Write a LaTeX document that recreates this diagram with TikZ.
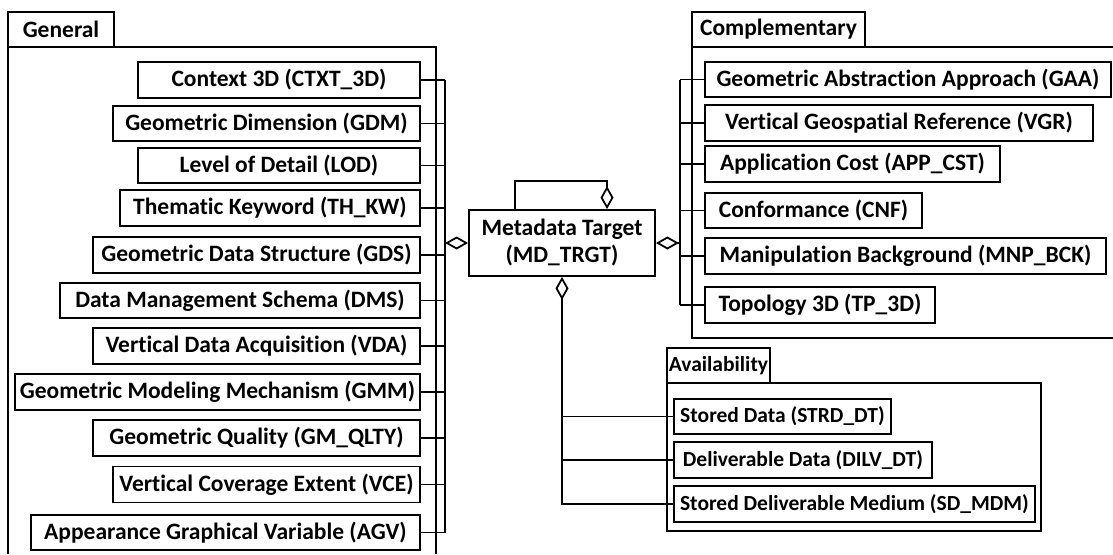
\documentclass[tikz,border=0pt]{standalone}
\usepackage{fontspec}
\setmainfont{Carlito}[Ligatures=NoCommon]
\usetikzlibrary{arrows.meta}
\tikzset{
  item/.style={draw, line width=1.8pt, inner sep=0pt, minimum height=36pt,
    font=\fontsize{23.5}{27}\selectfont\bfseries},
  aitem/.style={item, font=\fontsize{21.5}{25}\selectfont\bfseries},
  tab/.style={draw, line width=1.4pt, inner sep=0pt,
    font=\fontsize{23.5}{27}\selectfont\bfseries},
  pkg/.style={draw, line width=1.4pt},
  conn/.style={draw, line width=1.8pt},
  agg/.style={{Diamond[open,length=23pt,width=13pt]}-},
}
\begin{document}
\begin{tikzpicture}[x=1pt,y=-1pt]
\useasboundingbox (0,0) rectangle (1113,554);
% packages
\draw[pkg] (8,554) -- (8,47) -- (436,47) -- (436,554);
\node[tab, minimum width=106pt, minimum height=35pt] (gtab) at (61,29.5) {General};
\draw[pkg] (1113,47) -- (692,47) -- (692,338) -- (1113,338);
\node[tab, minimum width=173pt, minimum height=35pt] (ctab) at (778.5,29.5) {Complementary};
\draw[pkg] (667,383) rectangle (1041,531);
\node[tab, minimum width=103pt, minimum height=35pt, font=\fontsize{21.5}{25}\selectfont\bfseries] (atab) at (718.5,365.5) {Availability};
% general items
\node[item, minimum width=282pt] (ctx) at (279,80) {Context 3D (CTXT\_3D)};
\node[item, minimum width=307pt, minimum height=35pt] (gdm) at (266.5,123.5) {Geometric Dimension (GDM)};
\node[item, minimum width=282pt, minimum height=35pt] (lod) at (279,165.5) {Level of Detail (LOD)};
\node[item, minimum width=300pt] (thkw) at (270,208) {Thematic Keyword (TH\_KW)};
\node[item, minimum width=327pt] (gds) at (256.5,255) {Geometric Data Structure (GDS)};
\node[item, minimum width=360pt, minimum height=35pt] (dms) at (240,300.5) {Data Management Schema (DMS)};
\node[item, minimum width=327pt] (vda) at (256.5,346) {Vertical Data Acquisition (VDA)};
\node[item, minimum width=405pt] (gmm) at (217.5,392) {Geometric Modeling Mechanism (GMM)};
\node[item, minimum width=327pt] (gq) at (256.5,438) {Geometric Quality (GM\_QLTY)};
\node[item, minimum width=307pt] (vce) at (266.5,484.5) {Vertical Coverage Extent (VCE)};
\node[item, minimum width=389pt, minimum height=35pt] (agv) at (225.5,532.5) {Appearance Graphical Variable (AGV)};
% target
\node[item, minimum width=186pt, minimum height=66pt, align=center] (md) at (562,243) {Metadata Target\\(MD\_TRGT)};
% complementary items
\node[item, minimum width=406pt, minimum height=35pt] (gaa) at (908,79.5) {Geometric Abstraction Approach (GAA)};
\node[item, minimum width=388pt] (vgr) at (899,123) {Vertical Geospatial Reference (VGR)};
\node[item, minimum width=295pt] (app) at (852.5,164) {Application Cost (APP\_CST)};
\node[item, minimum width=217pt, minimum height=35pt] (cnf) at (813.5,210.5) {Conformance (CNF)};
\node[item, minimum width=401pt] (mnp) at (905.5,256) {Manipulation Background (MNP\_BCK)};
\node[item, minimum width=230pt] (tp) at (820,305) {Topology 3D (TP\_3D)};
% availability items
\node[aitem, minimum width=217pt, minimum height=35pt] (strd) at (782.5,416.5) {Stored Data (STRD\_DT)};
\node[aitem, minimum width=258pt] (dilv) at (803,460) {Deliverable Data (DILV\_DT)};
\node[aitem, minimum width=361pt] (sdm) at (854.5,504) {Stored Deliverable Medium (SD\_MDM)};
% bus coordinates
\coordinate (gb) at (445,243);
\coordinate (cb) at (680,243);
\coordinate (lA) at (515,181);
\coordinate (lB) at (607,181);
% general connectors
\foreach \n in {ctx,gdm,lod,thkw,gds,dms,vda,gmm,gq,vce,agv}
  \draw[conn] (\n.east) -- (\n.east -| gb);
\draw[conn] (ctx.east -| gb) -- (agv.east -| gb);
\draw[conn, agg] (md.west) -- (gb);
% complementary connectors
\foreach \n in {gaa,vgr,app,cnf,mnp,tp}
  \draw[conn] (\n.west) -- (\n.west -| cb);
\draw[conn] (gaa.west -| cb) -- (tp.west -| cb);
\draw[conn, agg] (md.east) -- (cb);
% availability connectors
\draw[conn, agg] (md.south) -- (sdm.west -| md.south) -- (sdm.west);
\draw[conn] (strd.west -| md.south) -- (strd.west);
\draw[conn] (dilv.west -| md.south) -- (dilv.west);
% self loop
\draw[conn, agg] (md.north -| lB) -- (lB) -- (lA) -- (md.north -| lA);
\end{tikzpicture}
\end{document}
